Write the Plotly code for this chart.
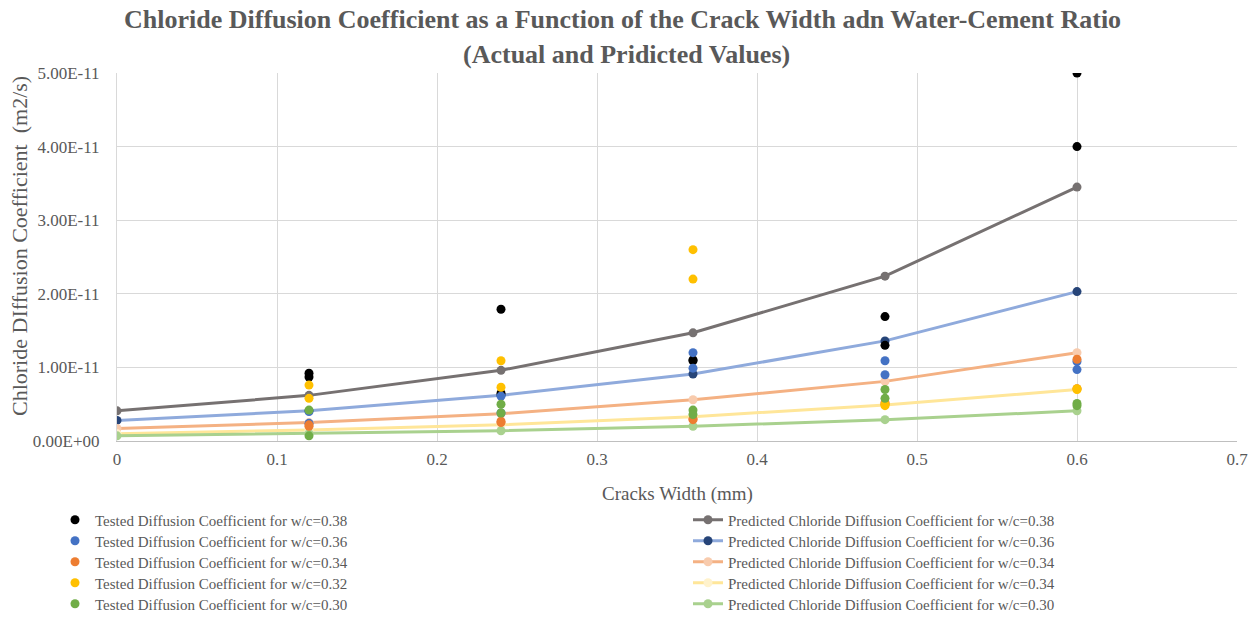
import plotly.graph_objects as go

# ---- data ----
crack_width = [0, 0.12, 0.24, 0.36, 0.48, 0.6]

pred_038 = [0.41e-11, 0.62e-11, 0.96e-11, 1.47e-11, 2.24e-11, 3.45e-11]
pred_036 = [0.28e-11, 0.41e-11, 0.62e-11, 0.91e-11, 1.36e-11, 2.03e-11]
pred_034 = [0.17e-11, 0.25e-11, 0.37e-11, 0.56e-11, 0.81e-11, 1.20e-11]
pred_032 = [0.10e-11, 0.15e-11, 0.22e-11, 0.33e-11, 0.49e-11, 0.70e-11]
pred_030 = [0.07e-11, 0.10e-11, 0.14e-11, 0.20e-11, 0.29e-11, 0.41e-11]

test_x = [0.12, 0.12, 0.24, 0.24, 0.36, 0.36, 0.48, 0.48, 0.6, 0.6]
test_038 = [0.92e-11, 0.87e-11, 1.79e-11, 0.65e-11, 1.09e-11, 1.10e-11, 1.69e-11, 1.30e-11, 5.00e-11, 4.00e-11]
test_036 = [0.40e-11, 0.24e-11, 0.61e-11, 0.38e-11, 1.20e-11, 0.99e-11, 1.09e-11, 0.90e-11, 1.08e-11, 0.97e-11]
test_034 = [0.22e-11, 0.20e-11, 0.27e-11, 0.25e-11, 0.29e-11, 0.30e-11, 0.52e-11, 0.50e-11, 1.11e-11, 0.71e-11]
test_032 = [0.76e-11, 0.58e-11, 1.09e-11, 0.73e-11, 2.60e-11, 2.20e-11, 0.50e-11, 0.48e-11, 0.71e-11, 0.70e-11]
test_030 = [0.42e-11, 0.07e-11, 0.50e-11, 0.38e-11, 0.42e-11, 0.36e-11, 0.70e-11, 0.58e-11, 0.51e-11, 0.48e-11]

y_tick_vals = [0, 1e-11, 2e-11, 3e-11, 4e-11, 5e-11]
y_tick_text = ["0.00E+00", "1.00E-11", "2.00E-11", "3.00E-11", "4.00E-11", "5.00E-11"]
x_tick_vals = [0, 0.1, 0.2, 0.3, 0.4, 0.5, 0.6, 0.7]
x_tick_text = ["0", "0.1", "0.2", "0.3", "0.4", "0.5", "0.6", "0.7"]

title_lines = [
    "Chloride Diffusion Coefficient as a Function of the Crack Width adn Water-Cement Ratio",
    "(Actual and Pridicted Values)",
]
x_title = "Cracks Width (mm)"
y_title = "Chloride DIffusion Coefficient  (m2/s)"

pred_names = [
    "Predicted Chloride Diffusion Coefficient for w/c=0.38",
    "Predicted Chloride Diffusion Coefficient for w/c=0.36",
    "Predicted Chloride Diffusion Coefficient for w/c=0.34",
    "Predicted Chloride Diffusion Coefficient for w/c=0.34",
    "Predicted Chloride Diffusion Coefficient for w/c=0.30",
]
test_names = [
    "Tested Diffusion Coefficient for w/c=0.38",
    "Tested Diffusion Coefficient for w/c=0.36",
    "Tested Diffusion Coefficient for w/c=0.34",
    "Tested Diffusion Coefficient for w/c=0.32",
    "Tested Diffusion Coefficient for w/c=0.30",
]

FONT = "Liberation Serif, Times New Roman, serif"
TXT = "#595959"
W, H = 1257, 617
ML, MR, MT, MB = 117, 20, 73, 176
PLOT_W = W - ML - MR
PLOT_H = H - MT - MB

pred_series = [pred_038, pred_036, pred_034, pred_032, pred_030]
pred_line_colors = ["#767171", "#8FAADC", "#F4B183", "#FFE699", "#A9D18E"]
pred_marker_colors = ["#767171", "#264478", "#F8CBAD", "#FFF2CC", "#A9D18E"]

test_series = [test_038, test_036, test_034, test_032, test_030]
test_colors = ["#000000", "#4472C4", "#ED7D31", "#FFC000", "#70AD47"]

legend_rows_px = [520, 541, 562, 583, 604]

fig = go.Figure()
layout_legends = {}

for i, (name, ys, lc, mc) in enumerate(zip(pred_names, pred_series, pred_line_colors, pred_marker_colors)):
    lid = "legend%d" % (i + 6)
    fig.add_trace(go.Scatter(
        x=crack_width, y=ys, mode="lines+markers", name=name,
        line=dict(color=lc, width=3),
        marker=dict(color=mc, size=9, line=dict(width=0)),
        legend=lid,
    ))
    layout_legends[lid] = dict(
        xref="container", yref="container",
        x=688 / W, y=1 - legend_rows_px[i] / H, xanchor="left", yanchor="middle",
        font=dict(family=FONT, size=15, color=TXT),
        bgcolor="rgba(0,0,0,0)", itemwidth=30,
    )

for i, (name, ys, c) in enumerate(zip(test_names, test_series, test_colors)):
    lid = "legend" if i == 0 else "legend%d" % (i + 1)
    fig.add_trace(go.Scatter(
        x=test_x, y=ys, mode="markers", name=name,
        marker=dict(color=c, size=9, line=dict(width=0)),
        legend=lid,
    ))
    layout_legends[lid] = dict(
        xref="container", yref="container",
        x=55 / W, y=1 - legend_rows_px[i] / H, xanchor="left", yanchor="middle",
        font=dict(family=FONT, size=15, color=TXT),
        bgcolor="rgba(0,0,0,0)", itemwidth=30,
    )

fig.add_annotation(text="<b>" + title_lines[0] + "</b>", xref="paper", yref="paper",
                   x=(622 - ML) / PLOT_W, y=1 + (MT - 20) / PLOT_H, xanchor="center", yanchor="middle",
                   showarrow=False, font=dict(family=FONT, size=26, color=TXT))
fig.add_annotation(text="<b>" + title_lines[1] + "</b>", xref="paper", yref="paper",
                   x=(626 - ML) / PLOT_W, y=1 + (MT - 54) / PLOT_H, xanchor="center", yanchor="middle",
                   showarrow=False, font=dict(family=FONT, size=26, color=TXT))
fig.add_annotation(text=y_title, xref="paper", yref="paper", textangle=-90,
                   x=(19 - ML) / PLOT_W, y=(H - MB - 246) / PLOT_H, xanchor="center", yanchor="middle",
                   showarrow=False, font=dict(family=FONT, size=22, color=TXT))
fig.add_annotation(text=x_title, xref="paper", yref="paper",
                   x=(677 - ML) / PLOT_W, y=-(494 - (H - MB)) / PLOT_H, xanchor="center", yanchor="middle",
                   showarrow=False, font=dict(family=FONT, size=19, color=TXT))

fig.update_layout(
    width=W, height=H,
    paper_bgcolor="white", plot_bgcolor="white",
    margin=dict(l=ML, r=MR, t=MT, b=MB, autoexpand=False),
    font=dict(family=FONT, color=TXT, size=16),
    xaxis=dict(
        range=[0, 0.7], tickvals=x_tick_vals, ticktext=x_tick_text,
        showgrid=True, gridcolor="#D9D9D9", gridwidth=1,
        showline=True, linecolor="#BFBFBF", linewidth=1,
        zeroline=False, ticks="", ticklabelstandoff=3,
        tickfont=dict(family=FONT, size=17, color=TXT),
    ),
    yaxis=dict(
        range=[0, 5e-11], tickvals=y_tick_vals, ticktext=y_tick_text,
        showgrid=True, gridcolor="#D9D9D9", gridwidth=1,
        showline=True, linecolor="#D9D9D9", linewidth=1,
        zeroline=False, ticks="", ticklabelstandoff=13,
        tickfont=dict(family=FONT, size=17, color=TXT),
    ),
    showlegend=True,
    **layout_legends,
)

fig.write_html("out.html", config={"displayModeBar": False},
               post_script="document.body.style.margin='0';")
